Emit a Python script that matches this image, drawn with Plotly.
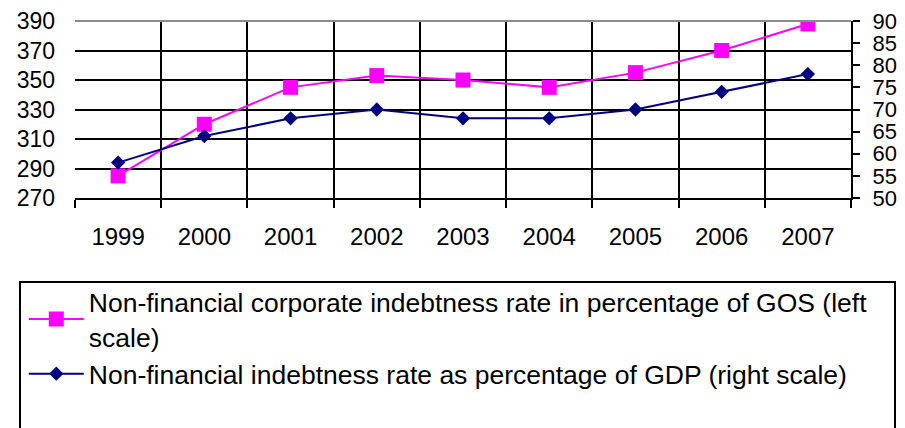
import plotly.graph_objects as go

years = ["1999", "2000", "2001", "2002", "2003", "2004", "2005", "2006", "2007"]
gos_rate = [285, 320, 345, 353, 350, 345, 355, 370, 388]
gdp_rate = [58, 64, 68, 70, 68, 68, 70, 74, 78]

left_ticks = [270, 290, 310, 330, 350, 370, 390]
right_ticks = [50, 55, 60, 65, 70, 75, 80, 85, 90]

FONT = "Liberation Sans, Arial, sans-serif"

fig = go.Figure()
fig.add_trace(go.Scatter(
    x=years, y=gos_rate, mode="lines+markers",
    name="Non-financial corporate indebtness rate in percentage of GOS (left<br>scale)",
    line=dict(color="#FF00FF", width=2),
    marker=dict(symbol="square", size=15, color="#FF00FF"),
    yaxis="y"))
fig.add_trace(go.Scatter(
    x=years, y=gdp_rate, mode="lines+markers",
    name="Non-financial indebtness rate as percentage of GDP (right scale)",
    line=dict(color="#000080", width=2),
    marker=dict(symbol="diamond", size=11, color="#000080"),
    yaxis="y2"))

# page body has an 8px margin; margins below compensate for it
fig.update_layout(
    width=905, height=428,
    margin=dict(l=67, r=62, t=13, b=238, autoexpand=False),
    paper_bgcolor="white", plot_bgcolor="white",
    font=dict(family=FONT, size=24, color="black"),
    xaxis=dict(
        type="category", range=[-0.5, 8.5], tickson="boundaries",
        showgrid=True, gridcolor="black", gridwidth=2,
        ticks="outside", ticklen=8, tickwidth=2, tickcolor="black",
        showline=True, linecolor="black", linewidth=2,
        ticklabelstandoff=16, automargin=False,
        tickfont=dict(size=24)),
    yaxis=dict(
        range=[270, 390], tickvals=left_ticks,
        showgrid=True, gridcolor="black", gridwidth=2,
        zeroline=False, showline=False, ticks="",
        ticklabelstandoff=19, automargin=False,
        ticklabeloverflow="allow",
        tickfont=dict(size=23)),
    yaxis2=dict(
        range=[50, 90], tickvals=right_ticks, overlaying="y", side="right",
        showgrid=False, zeroline=False,
        showline=True, linecolor="black", linewidth=2,
        ticks="outside", ticklen=7, tickwidth=2, tickcolor="black",
        ticklabelstandoff=8, automargin=False,
        ticklabeloverflow="allow",
        tickfont=dict(size=22)),
    showlegend=True,
    legend=dict(
        x=-0.066, y=-0.452, xanchor="left", yanchor="top",
        bgcolor="rgba(0,0,0,0)", borderwidth=0,
        font=dict(size=26.5), itemwidth=55, tracegroupgap=0),
    shapes=[
        dict(type="line", xref="paper", yref="paper", x0=0, x1=1, y0=1, y1=1,
             line=dict(color="#8c8c8c", width=2)),
        dict(type="rect", xref="paper", yref="paper",
             x0=-0.0709, x1=1.0567, y0=-0.475, y1=-1.35,
             line=dict(color="black", width=2)),
    ],
)

fig.write_html("out.html")
